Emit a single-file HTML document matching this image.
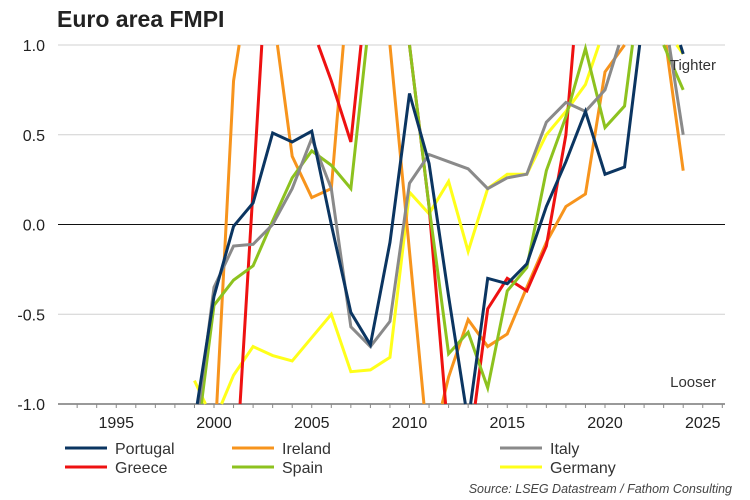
<!DOCTYPE html>
<html><head><meta charset="utf-8">
<style>
html,body{margin:0;padding:0;background:#fff;overflow:hidden;width:750px;height:500px;}
svg{display:block;}
svg text{font-family:"Liberation Sans",Arial,sans-serif;}
</style></head>
<body>
<svg id="chart" width="750" height="500" xmlns="http://www.w3.org/2000/svg">
<text x="57" y="27" font-size="23" font-weight="bold" fill="#222">Euro area FMPI</text>
<g id="grid"></g>
<g id="series"></g>
<g id="axes"></g>
<text x="716" y="70" font-size="15" fill="#333" text-anchor="end">Tighter</text>
<text x="716" y="387" font-size="15" fill="#333" text-anchor="end">Looser</text>
<g id="legend"></g>
<text x="732" y="493" font-size="12.5" font-style="italic" fill="#444" text-anchor="end">Source: LSEG Datastream / Fathom Consulting</text>
</svg>
<script>
const years = [1999,2000,2001,2002,2003,2004,2005,2006,2007,2008,2009,2010,2011,2012,2013,2014,2015,2016,2017,2018,2019,2020,2021,2022,2023,2024];
const portugal = [-1.1,-0.4,-0.01,0.12,0.51,0.46,0.52,0.0,-0.49,-0.67,-0.1,0.73,0.34,-0.4,-1.1,-0.3,-0.33,-0.22,0.1,0.35,0.63,0.28,0.32,1.2,1.3,0.95];
const ireland = [-1.5,-1.3,0.8,1.5,1.2,0.38,0.15,0.2,1.5,1.5,1.0,-0.15,-1.3,-0.85,-0.53,-0.68,-0.61,-0.35,-0.1,0.1,0.17,0.85,1.0,1.2,1.1,0.3];
const italy = [-1.2,-0.35,-0.12,-0.11,0.0,0.2,0.48,0.2,-0.57,-0.68,-0.54,0.23,0.39,0.35,0.31,0.2,0.26,0.28,0.57,0.68,0.63,0.75,1.1,1.2,1.2,0.5];
const greece = [-2.0,-2.0,-1.6,0.2,2.0,1.8,1.1,0.8,0.46,1.5,1.8,1.0,0.1,-1.2,-1.3,-0.47,-0.3,-0.37,-0.12,0.5,1.8,1.8,1.8,1.8,1.8,1.8];
const spain = [-1.3,-0.45,-0.31,-0.23,0.02,0.26,0.41,0.33,0.2,1.2,1.5,1.0,0.1,-0.72,-0.6,-0.91,-0.37,-0.24,0.3,0.6,0.98,0.54,0.66,1.5,1.0,0.75];
const germany = [-0.87,-1.1,-0.84,-0.68,-0.73,-0.76,-0.63,-0.5,-0.82,-0.81,-0.74,0.18,0.06,0.24,-0.15,0.2,0.28,0.28,0.5,0.63,0.78,1.1,1.3,1.4,1.1,0.95];
const yTicks = [1.0,0.5,0.0,-0.5,-1.0];
const yTickLabels = ["1.0","0.5","0.0","-0.5","-1.0"];
const xTicks = [1995,2000,2005,2010,2015,2020,2025];

const NS="http://www.w3.org/2000/svg";
const YMIN=-1, YMAX=1;
function X(yr){return 214+(yr-2000)*19.55;}
function Y(v){return 224.5-v*179.5;}
function mk(tag,attrs,parent){const e=document.createElementNS(NS,tag);for(const k in attrs)e.setAttribute(k,attrs[k]);parent.appendChild(e);return e;}
const grid=document.getElementById('grid'),axes=document.getElementById('axes'),ser=document.getElementById('series'),leg=document.getElementById('legend');
yTicks.forEach((v,i)=>{
  const l=mk('line',{x1:58,x2:725,y1:Y(v),y2:Y(v),stroke:v===0?'#111':(v===-1?'#999':'#d0d0d0'),'stroke-width':v===-1?2:1},grid);
  
  
  const t=mk('text',{x:45,y:Y(v)+6,'font-size':16,'text-anchor':'end',fill:'#222'},axes);
  t.textContent=yTickLabels[i];
  
  
});
for(let yr=1993;yr<=2026;yr++){
  const tk=mk('line',{x1:X(yr),x2:X(yr),y1:Y(-1),y2:Y(-1)+4,stroke:'#888','stroke-width':1},axes);
  
  
}
xTicks.forEach(yr=>{
  const t=mk('text',{x:X(yr),y:428,'font-size':16,'text-anchor':'middle',fill:'#222'},axes);
  t.textContent=yr;
  
  
});
// clip each segment to [YMIN,YMAX] in data space
function clippedPath(xs,vs){
  let d='';let penDown=false;
  for(let i=0;i<xs.length-1;i++){
    let x0=xs[i],v0=vs[i],x1=xs[i+1],v1=vs[i+1];
    let t0=0,t1=1;const dv=v1-v0;
    if(dv===0){ if(v0<YMIN||v0>YMAX){penDown=false;continue;} }
    else{
      let ta=(YMIN-v0)/dv,tb=(YMAX-v0)/dv;
      let lo=Math.min(ta,tb),hi=Math.max(ta,tb);
      t0=Math.max(0,lo);t1=Math.min(1,hi);
      if(t0>t1){penDown=false;continue;}
    }
    const ax=x0+(x1-x0)*t0,av=v0+dv*t0,bx=x0+(x1-x0)*t1,bv=v0+dv*t1;
    if(!penDown||t0>0){d+='M'+X(ax).toFixed(2)+','+Y(av).toFixed(2);}
    d+='L'+X(bx).toFixed(2)+','+Y(bv).toFixed(2);
    penDown=(t1===1);
  }
  return d;
}
const series=[
 ['Portugal',portugal,'#0b3561'],['Ireland',ireland,'#f7941d'],['Italy',italy,'#8a8a8a'],
 ['Greece',greece,'#ee1111'],['Spain',spain,'#8dc21f'],['Germany',germany,'#ffff1a']];
const drawOrder=['Germany','Ireland','Greece','Spain','Italy','Portugal'];
drawOrder.forEach(n=>{
  const s=series.find(a=>a[0]===n);
  const p=mk('path',{d:clippedPath(years,s[1]),fill:'none',stroke:s[2],'stroke-width':3,'stroke-linejoin':'miter'},ser);
  
  
});
const legPos=[[65,448],[232,448],[500,448],[65,467],[232,467],[500,467]];
series.forEach((s,i)=>{
  const [lx,ly]=legPos[i];
  const g=mk('g',{},leg);
  
  
  mk('line',{x1:lx,x2:lx+42,y1:ly,y2:ly,stroke:s[2],'stroke-width':3},g);
  const t=mk('text',{x:lx+50,y:ly+6,'font-size':16,fill:'#333'},g);
  t.textContent=s[0];
});
</script>
</body></html>
